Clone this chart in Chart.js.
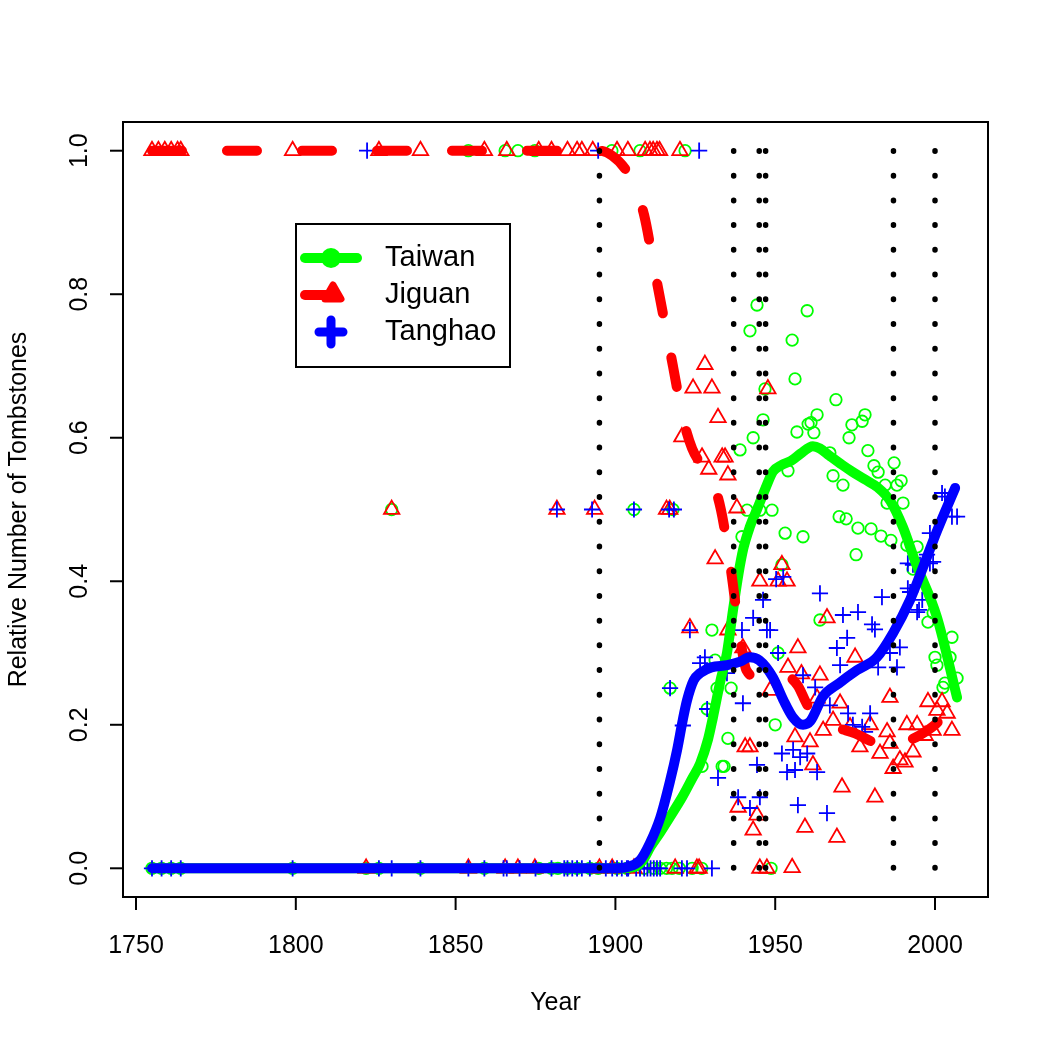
<!DOCTYPE html>
<html>
<head>
<meta charset="utf-8">
<script src="https://cdn.jsdelivr.net/npm/chart.js@4.4.1/dist/chart.umd.min.js"></script>
<style>
  html, body { margin: 0; padding: 0; background: #fff; }
  #wrap { width: 1050px; height: 1050px; }
</style>
</head>
<body>
<div id="wrap"><canvas id="lapidas" width="1050" height="1050"></canvas></div>
<script>
// --- ejes ---
const xTicks = [1750, 1800, 1850, 1900, 1950, 2000];
const yTicks = [0, 0.2, 0.4, 0.6, 0.8, 1];
const yTickLabels = ['0.0', '0.2', '0.4', '0.6', '0.8', '1.0'];
const eventYears = [1895, 1937, 1945, 1947, 1987, 2000];
const seriesNames = ['Taiwan', 'Jiguan', 'Tanghao'];

// --- Taiwan (circulos) ---
const taiwanTopYears = [1854, 1865.5, 1869.5, 1874.8, 1898.9, 1907.7, 1921.8];
const taiwanHalfYears = [1830, 1905.8, 1918];
const taiwanZeroYears = [1755, 1758, 1761, 1764, 1799, 1822, 1826, 1839, 1859, 1876, 1880, 1882, 1885, 1888,
    1892, 1894.6, 1900.5, 1903.6, 1909, 1912, 1914, 1916, 1917.7, 1920, 1924, 1927, 1948.7];
const taiwanMidYears = [
    1917.1, 1928.7, 1927.1, 1930.2, 1931.2, 1931.8, 1933.4, 1934, 1935.2, 1936.2,
    1939, 1939.6, 1941.2, 1942.1, 1943.1, 1944.3, 1945.2, 1946.2, 1946.8, 1949,
    1950, 1950.9, 1952.1, 1953.1, 1954, 1955.3, 1956.2, 1956.8, 1958.7, 1960,
    1960.3, 1961.2, 1962.1, 1963.1, 1964, 1967.1, 1968.1, 1969, 1970, 1971.2,
    1972.2, 1973.1, 1974, 1975.3, 1975.9, 1977.2, 1978.1, 1979, 1980, 1980.9,
    1982.2, 1983.1, 1984.4, 1985, 1986.2, 1987.2, 1988.1, 1989.4, 1990, 1991.2,
    1993.1, 1994.4, 1997.8, 1999.4, 2000, 2000.6, 2002.5, 2003.1, 2004.7, 2005.3,
    2006.9];
const taiwanMidVals = [
    0.251, 0.222, 0.142, 0.332, 0.290, 0.251, 0.142, 0.142, 0.181, 0.251,
    0.583, 0.462, 0.499, 0.749, 0.600, 0.785, 0.499, 0.625, 0.668, 0.499,
    0.200, 0.300, 0.423, 0.467, 0.554, 0.736, 0.682, 0.608, 0.462, 0.777,
    0.619, 0.621, 0.607, 0.632, 0.346, 0.579, 0.547, 0.653, 0.490, 0.534,
    0.487, 0.600, 0.618, 0.437, 0.474, 0.623, 0.632, 0.582, 0.473, 0.561,
    0.552, 0.463, 0.534, 0.509, 0.457, 0.565, 0.534, 0.540, 0.509, 0.450,
    0.417, 0.448, 0.343, 0.356, 0.294, 0.283, 0.252, 0.258, 0.294, 0.322,
    0.265];

// --- Jiguan (triangulos) ---
const jiguanTopYears = [1755, 1757, 1759, 1761, 1763, 1764, 1799, 1826, 1839, 1859, 1866, 1876, 1880, 1885,
    1888, 1889.5, 1892.9, 1900.5, 1903.9, 1909.3, 1910.8, 1911.8, 1913, 1913.8, 1920.2];
const jiguanHalfYears = [1830, 1881.7, 1893.5, 1916, 1917];
const jiguanZeroYears = [1822, 1854, 1865.5, 1869.5, 1874.8, 1895, 1899, 1905.8, 1918.7, 1925.5, 1926.2,
    1945.2, 1947.4];
const jiguanMidYears = [
    1920.8, 1923.3, 1924.3, 1927.1, 1928, 1929.2, 1930.2, 1931.2, 1932.1, 1933.4,
    1934.3, 1935.2, 1935.2, 1938, 1938.4, 1939.9, 1940.6, 1942.1, 1943.1, 1944.3,
    1945.2, 1947.7, 1948.4, 1950.9, 1952.1, 1953.7, 1954, 1955.3, 1956.2, 1957.1,
    1958.2, 1959.3, 1960.9, 1961.8, 1963.1, 1964, 1965, 1966.2, 1968.1, 1969.3,
    1970.3, 1970.9, 1973.4, 1975, 1976.5, 1979.7, 1981.2, 1982.8, 1985, 1985.9,
    1985.9, 1986.9, 1989, 1990.6, 1991.2, 1993.1, 1994.4, 1996.9, 1997.8, 1999.4,
    2000.6, 2002.2, 2003.8, 2005.3];
const jiguanMidVals = [
    0.601, 0.335, 0.669, 0.573, 0.702, 0.556, 0.669, 0.431, 0.628, 0.573,
    0.573, 0.548, 0.332, 0.502, 0.085, 0.307, 0.169, 0.169, 0.053, 0.074,
    0.400, 0.668, 0.248, 0.400, 0.423, 0.400, 0.280, 0.001, 0.183, 0.307,
    0.271, 0.057, 0.176, 0.144, 0.237, 0.269, 0.192, 0.349, 0.206, 0.043,
    0.230, 0.113, 0.197, 0.294, 0.169, 0.200, 0.099, 0.160, 0.190, 0.238,
    0.174, 0.139, 0.151, 0.148, 0.200, 0.162, 0.200, 0.185, 0.232, 0.192,
    0.220, 0.232, 0.216, 0.192];

// --- Tanghao (cruces) ---
const tanghaoTopYears = [1822.3, 1894.6, 1926.2];
const tanghaoHalfYears = [1881.7, 1892.7, 1905.8, 1916.8, 1918.3];
const tanghaoZeroYears = [1755, 1758, 1761, 1764, 1799, 1826, 1830, 1839, 1854, 1859, 1865, 1866, 1870, 1875,
    1880, 1884, 1885, 1886.5, 1888, 1889.5, 1892, 1897, 1899, 1900.5, 1902, 1903.6, 1904, 1906.5, 1907.7,
    1909, 1910, 1911, 1912, 1913, 1914, 1920.8, 1922.4, 1930.2];
const tanghaoMidYears = [
    1917.1, 1921.1, 1923.3, 1926.5, 1928, 1928.7, 1932.1, 1934.9, 1938.4, 1939.6,
    1939.9, 1942.1, 1943.1, 1944.3, 1945.2, 1946.2, 1947.4, 1948.4, 1950.3, 1952.5,
    1950.9, 1952.1, 1953.7, 1955.6, 1956.2, 1957.1, 1957.8, 1958.7, 1960, 1962.5,
    1963.1, 1964, 1966.2, 1967.1, 1969.3, 1970.3, 1971.2, 1972.5, 1972.8, 1974.3,
    1975.9, 1977.2, 1978.1, 1979.7, 1980.3, 1981.2, 1982.2, 1983.4, 1985.9, 1988.1,
    1989, 1991.5, 1991.5, 1992.2, 1993.1, 1994.4, 1995, 1995.3, 1996, 1997.5,
    1998.4, 1998.4, 1999.4, 2002.2, 2003.1, 2005.3, 2006.9];
const tanghaoMidVals = [
    0.251, 0.199, 0.332, 0.286, 0.294, 0.222, 0.126, 0.272, 0.099, 0.332,
    0.230, 0.084, 0.349, 0.144, 0.099, 0.374, 0.332, 0.332, 0.403, 0.406,
    0.300, 0.160, 0.134, 0.165, 0.137, 0.088, 0.155, 0.269, 0.160, 0.252,
    0.134, 0.383, 0.077, 0.227, 0.307, 0.283, 0.353, 0.321, 0.216, 0.200,
    0.357, 0.197, 0.190, 0.216, 0.340, 0.333, 0.280, 0.378, 0.300, 0.280,
    0.308, 0.390, 0.425, 0.385, 0.423, 0.357, 0.360, 0.423, 0.374, 0.437,
    0.467, 0.425, 0.427, 0.523, 0.518, 0.490, 0.490];

// --- curvas suavizadas ---
const taiwanCurveYears = [1755, 1800, 1850, 1900, 1906, 1908.6, 1911, 1914, 1917, 1921, 1924, 1926.5, 1929,
    1930.5, 1932.8, 1934.9, 1936.8, 1938.5, 1940, 1942, 1944.3, 1947, 1949.3, 1952, 1955, 1958, 1961.8, 1964,
    1967, 1971, 1974, 1978, 1982, 1986, 1990, 1994, 2000.6, 2006.9];
const taiwanCurveVals = [0, 0, 0, 0, 0.002, 0.011, 0.03, 0.05, 0.071, 0.1, 0.125, 0.146, 0.18,
    0.21, 0.26, 0.3, 0.36, 0.41, 0.445, 0.475, 0.5, 0.53, 0.553, 0.562, 0.568, 0.578, 0.588, 0.585,
    0.575, 0.562, 0.553, 0.542, 0.531, 0.512, 0.475, 0.425, 0.35, 0.238];
const jiguanCurveYears = [1755, 1800, 1850, 1895, 1899, 1903, 1906, 1909, 1912, 1915, 1918, 1921, 1924, 1927,
    1930, 1933, 1936, 1939, 1941, 1946, 1950, 1954, 1957, 1960, 1964, 1970, 1975, 1980, 1985, 1990, 1995,
    2000, 2005.6];
const jiguanCurveVals = [1, 1, 1, 1, 0.993, 0.975, 0.95, 0.91, 0.84, 0.77, 0.7, 0.63, 0.585, 0.562,
    0.543, 0.5, 0.42, 0.322, 0.276, 0.263, 0.262, 0.266, 0.255, 0.228, 0.205, 0.195, 0.188, 0.177, 0.169,
    0.175, 0.185, 0.2, 0.227];
const tanghaoCurveYears = [1755, 1800, 1850, 1900, 1904, 1907.7, 1910.8, 1914, 1917, 1919.3, 1921, 1922.4,
    1924.5, 1926.5, 1930, 1935, 1939, 1942, 1945, 1949.3, 1952.5, 1955.6, 1958.7, 1961, 1965, 1970, 1975.6,
    1981.8, 1986.9, 1992.2, 1996.3, 2000.6, 2006.3];
const tanghaoCurveVals = [0, 0, 0, 0, 0.002, 0.011, 0.035, 0.07, 0.12, 0.165, 0.205, 0.234,
    0.262, 0.272, 0.28, 0.283, 0.288, 0.294, 0.29, 0.266, 0.235, 0.21, 0.2, 0.205, 0.24, 0.258, 0.276,
    0.294, 0.328, 0.374, 0.42, 0.47, 0.53];

const VERDE = '#00ff00', ROJO = '#ff0000', AZUL = '#0000ff';
const FUENTE = '"Liberation Sans", Arial, Helvetica, sans-serif';

// junta los grupos de una serie en puntos {x, y}
function puntos(top, half, zero, midYears, midVals) {
    const pts = [];
    top.forEach(x => pts.push({ x: x, y: 1 }));
    half.forEach(x => pts.push({ x: x, y: 0.5 }));
    zero.forEach(x => pts.push({ x: x, y: 0 }));
    midYears.forEach((x, i) => pts.push({ x: x, y: midVals[i] }));
    return pts;
}
function curva(years, vals) {
    return years.map((x, i) => ({ x: x, y: vals[i] }));
}

function serieDePuntos(label, data, color, estilo, radio, order) {
    return {
        label: label, type: 'scatter', data: data, order: order,
        pointStyle: estilo, pointRadius: radio, pointHoverRadius: radio,
        pointBorderColor: color, pointBackgroundColor: 'rgba(0,0,0,0)', pointBorderWidth: 1.8,
        showLine: false
    };
}
function serieDeCurva(label, data, color, order, dash) {
    return {
        label: label, type: 'line', data: data, order: order,
        borderColor: color, borderWidth: 10, borderCapStyle: 'round', borderJoinStyle: 'round',
        borderDash: dash || [], cubicInterpolationMode: 'monotone',
        pointRadius: 0, fill: false
    };
}

const datasets = [];
// lineas punteadas de los eventos
eventYears.forEach(yr => {
    datasets.push({
        label: 'evento ' + yr, type: 'line', order: 0,
        data: [{ x: yr, y: 1 }, { x: yr, y: 0 }],
        borderColor: '#000', borderWidth: 5.5, borderCapStyle: 'round',
        borderDash: [0.5, 24.22], pointRadius: 0, fill: false
    });
});
datasets.push(serieDeCurva('Tanghao curva', curva(tanghaoCurveYears, tanghaoCurveVals), AZUL, 1));
datasets.push(serieDeCurva('Jiguan curva', curva(jiguanCurveYears, jiguanCurveVals), ROJO, 2, [30, 45]));
datasets.push(serieDeCurva('Taiwan curva', curva(taiwanCurveYears, taiwanCurveVals), VERDE, 3));
datasets.push(serieDePuntos('Tanghao', puntos(tanghaoTopYears, tanghaoHalfYears, tanghaoZeroYears, tanghaoMidYears, tanghaoMidVals), AZUL, 'cross', 8.1, 4));
datasets.push(serieDePuntos('Jiguan', puntos(jiguanTopYears, jiguanHalfYears, jiguanZeroYears, jiguanMidYears, jiguanMidVals), ROJO, 'triangle', 8.9, 5));
datasets.push(serieDePuntos('Taiwan', puntos(taiwanTopYears, taiwanHalfYears, taiwanZeroYears, taiwanMidYears, taiwanMidVals), VERDE, 'circle', 5.75, 6));

// Marco, ejes, titulos y leyenda estilo R
const marcoR = {
    id: 'marcoR',
    afterDraw(chart) {
        const ctx = chart.ctx;
        const area = chart.chartArea;
        const xs = chart.scales.x, ys = chart.scales.y;
        ctx.save();
        ctx.strokeStyle = '#000';
        ctx.fillStyle = '#000';
        ctx.lineWidth = 2;
        ctx.lineCap = 'butt';
        ctx.strokeRect(area.left, area.top, area.right - area.left, area.bottom - area.top);

        ctx.font = '25px ' + FUENTE;
        // eje x
        ctx.textAlign = 'center';
        ctx.textBaseline = 'middle';
        xTicks.forEach(v => {
            const px = xs.getPixelForValue(v);
            ctx.beginPath();
            ctx.moveTo(px, area.bottom);
            ctx.lineTo(px, area.bottom + 13);
            ctx.stroke();
            ctx.fillText(String(v), px, area.bottom + 49);
        });
        // eje y
        yTicks.forEach((v, i) => {
            const py = ys.getPixelForValue(v);
            ctx.beginPath();
            ctx.moveTo(area.left, py);
            ctx.lineTo(area.left - 13, py);
            ctx.stroke();
            ctx.save();
            ctx.translate(area.left - 43, py);
            ctx.rotate(-Math.PI / 2);
            ctx.fillText(yTickLabels[i], 0, 0);
            ctx.restore();
        });
        // titulos
        ctx.fillText('Year', (area.left + area.right) / 2, area.bottom + 106);
        ctx.save();
        ctx.translate(area.left - 104, (area.top + area.bottom) / 2);
        ctx.rotate(-Math.PI / 2);
        ctx.fillText('Relative Number of Tombstones', 0, 0);
        ctx.restore();

        // leyenda
        const lx = 296, ly = 224, lw = 214, lh = 143;
        ctx.fillStyle = '#fff';
        ctx.fillRect(lx, ly, lw, lh);
        ctx.strokeStyle = '#000';
        ctx.lineWidth = 2;
        ctx.strokeRect(lx, ly, lw, lh);
        const filas = [258, 295, 332];
        const cx = 331;
        ctx.lineCap = 'round';
        ctx.lineJoin = 'round';
        // Taiwan
        ctx.strokeStyle = VERDE; ctx.fillStyle = VERDE; ctx.lineWidth = 10;
        ctx.beginPath(); ctx.moveTo(305, filas[0]); ctx.lineTo(357, filas[0]); ctx.stroke();
        ctx.beginPath(); ctx.arc(cx, filas[0], 10, 0, Math.PI * 2); ctx.fill();
        // Jiguan
        ctx.strokeStyle = ROJO; ctx.fillStyle = ROJO;
        ctx.beginPath(); ctx.moveTo(305, filas[1]); ctx.lineTo(336, filas[1]); ctx.stroke();
        ctx.lineWidth = 7;
        ctx.beginPath();
        ctx.moveTo(cx + 2, filas[1] - 10);
        ctx.lineTo(cx + 10, filas[1] + 4);
        ctx.lineTo(cx - 6, filas[1] + 4);
        ctx.closePath(); ctx.fill(); ctx.stroke();
        // Tanghao
        ctx.strokeStyle = AZUL; ctx.lineWidth = 9;
        ctx.beginPath();
        ctx.moveTo(cx - 12, filas[2]); ctx.lineTo(cx + 12, filas[2]);
        ctx.moveTo(cx, filas[2] - 12); ctx.lineTo(cx, filas[2] + 12);
        ctx.stroke();

        ctx.fillStyle = '#000';
        ctx.font = '29px ' + FUENTE;
        ctx.textAlign = 'left';
        seriesNames.forEach((n, i) => ctx.fillText(n, 385, filas[i]));
        ctx.restore();
    }
};

new Chart(document.getElementById('lapidas'), {
    type: 'scatter',
    data: { datasets: datasets },
    options: {
        responsive: false,
        animation: false,
        events: [],
        layout: { padding: { left: 123, right: 62, top: 122, bottom: 153 } },
        plugins: { legend: { display: false }, tooltip: { enabled: false } },
        scales: {
            x: { type: 'linear', display: false, min: 1745.93, max: 2016.58 },
            y: { type: 'linear', display: false, min: -0.04, max: 1.04 }
        }
    },
    plugins: [marcoR]
});
</script>
</body>
</html>
